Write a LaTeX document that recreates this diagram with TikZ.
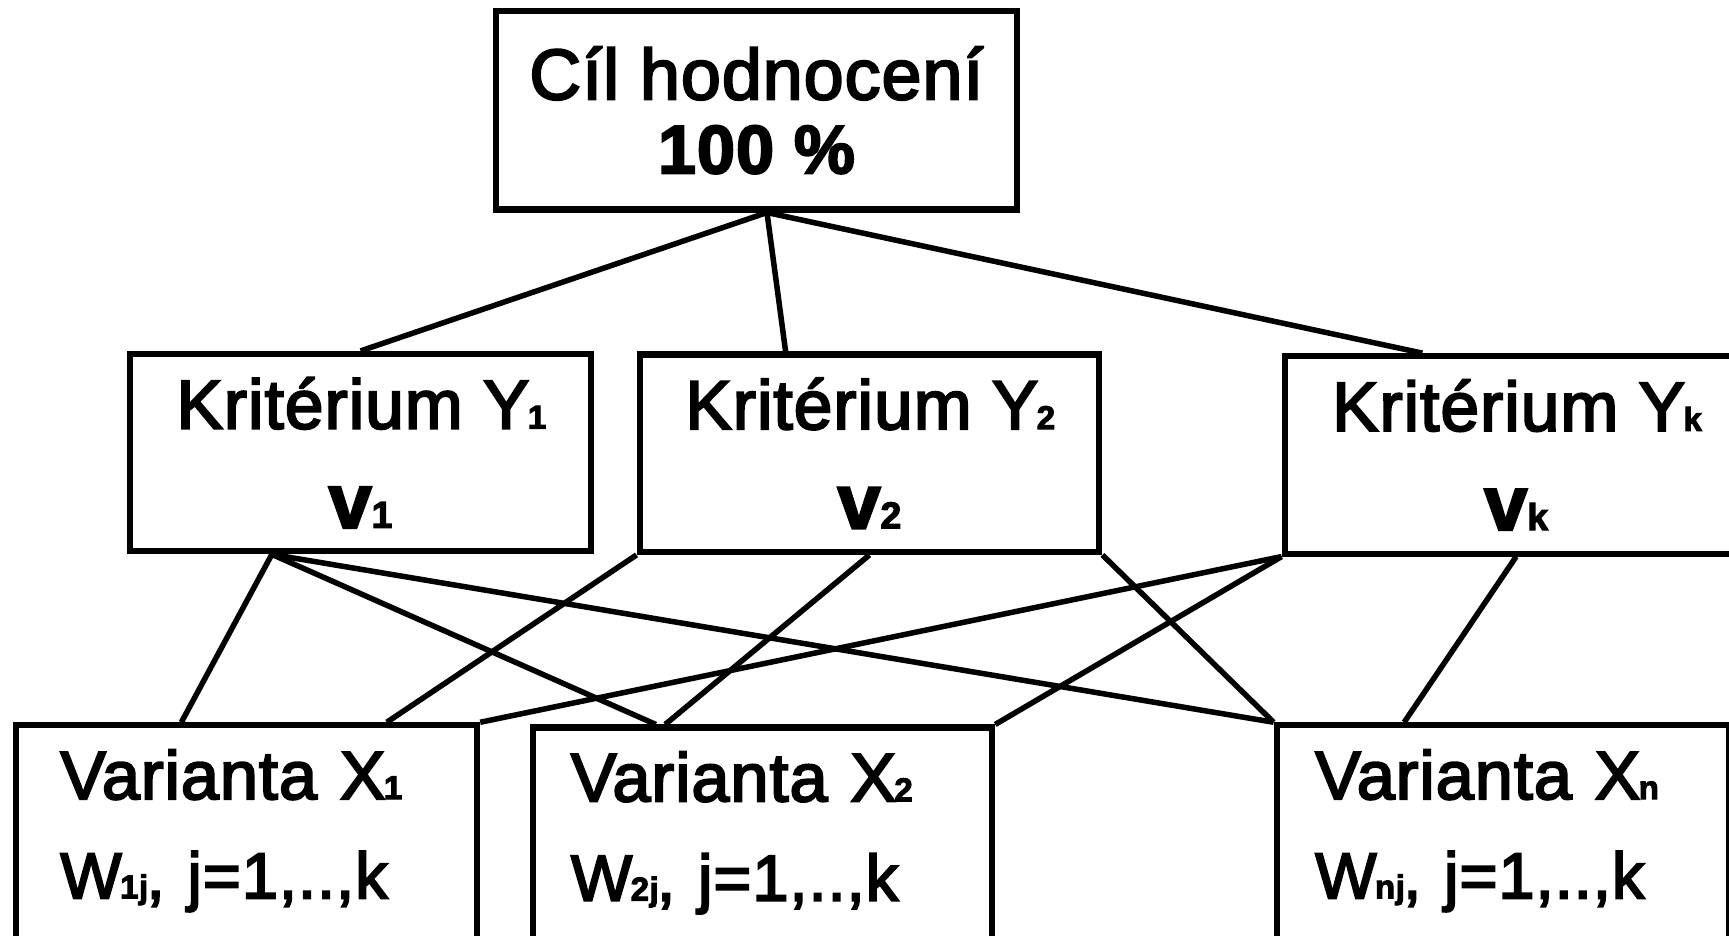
\documentclass[tikz,border=0pt]{standalone}
\usepackage{fontspec}
\setmainfont{Liberation Sans}[FakeBold=3, LetterSpace=1.5]
\usetikzlibrary{calc}

\newcommand{\lowidx}[1]{\kern-1.5pt{\fontsize{30}{30}\selectfont\bfseries #1}\kern-1.5pt}

\begin{document}
\begin{tikzpicture}[x=1pt, y=-1pt, line width=5pt,
  box/.style={draw, line width=5.5pt, rectangle, inner sep=0pt},
  crit/.style={box, minimum width=418pt, minimum height=179pt, align=center,
    font=\fontsize{63}{90}\selectfont},
  var/.style={box, anchor=north west, align=left, inner ysep=22pt,
    text depth=120pt, font=\fontsize{62}{90}\selectfont}]
  \useasboundingbox (0,0) rectangle (1568,848);
  \clip (0,0) rectangle (1568,848);

  % goal
  \node [box, minimum width=472pt, minimum height=180pt, align=center,
    font=\fontsize{65}{67}\selectfont] (goal) at (686,100)
    {Cíl hodnocení\\{\bfseries\fontsize{62}{67}\selectfont 100 \%}};

  % criteria
  \node [crit] (k1) at (327,410.5)
    {Kritérium Y\lowidx{1}\\{\bfseries\fontsize{70}{90}\selectfont v\fontsize{34}{34}\selectfont 1}};
  \node [crit, minimum width=417pt] (k2) at (788.5,411)
    {Kritérium Y\lowidx{2}\\{\bfseries\fontsize{70}{90}\selectfont v\fontsize{34}{34}\selectfont 2}};
  \node [crit, minimum width=420pt] (kk) at (1375,412.5)
    {Kritérium Y\lowidx{k}\\{\bfseries\fontsize{70}{90}\selectfont v\fontsize{34}{34}\selectfont k}};

  % variants
  \node [var, inner xsep=40pt, text width=338pt] (v1) at (12,655)
    {Varianta X\lowidx{1}\\{\fontsize{59}{90}\selectfont W\lowidx{1j}, j=1,..,k}};
  \node [var, inner xsep=34pt, text width=348pt] (v2) at (481,657)
    {Varianta X\lowidx{2}\\{\fontsize{59}{90}\selectfont W\lowidx{2j}, j=1,..,k}};
  \node [var, inner xsep=35pt, text width=340pt] (vn) at (1155,655)
    {Varianta X\lowidx{n}\\{\fontsize{59}{90}\selectfont W\lowidx{nj}, j=1,..,k}};

  % goal -> criteria
  \coordinate (g) at ($(goal.south west)!0.52!(goal.south east)$);
  \draw (g) -- (k1.north);
  \draw (g) -- ($(k2.north west)!0.32!(k2.north east)$);
  \draw (g) -- ($(kk.north west)!0.30!(kk.north east)$);

  % criteria -> variants
  \coordinate (k1b) at ($(k1.south west)!0.31!(k1.south east)$);
  \draw (k1b) -- ($(v1.north west)!0.36!(v1.north east)$);
  \draw (k1b) -- ($(v2.north west)!0.27!(v2.north east)$);
  \draw (k1b) -- (vn.north west);
  \draw (k2.south west) -- ($(v1.north west)!0.80!(v1.north east)$);
  \draw (k2.south) -- ($(v2.north west)!0.29!(v2.north east)$);
  \draw (k2.south east) -- (vn.north west);
  \draw (kk.south west) -- (v1.north east);
  \draw (kk.south west) -- (v2.north east);
  \draw (kk.south) -- ($(vn.north west)!0.285!(vn.north east)$);
\end{tikzpicture}
\end{document}
